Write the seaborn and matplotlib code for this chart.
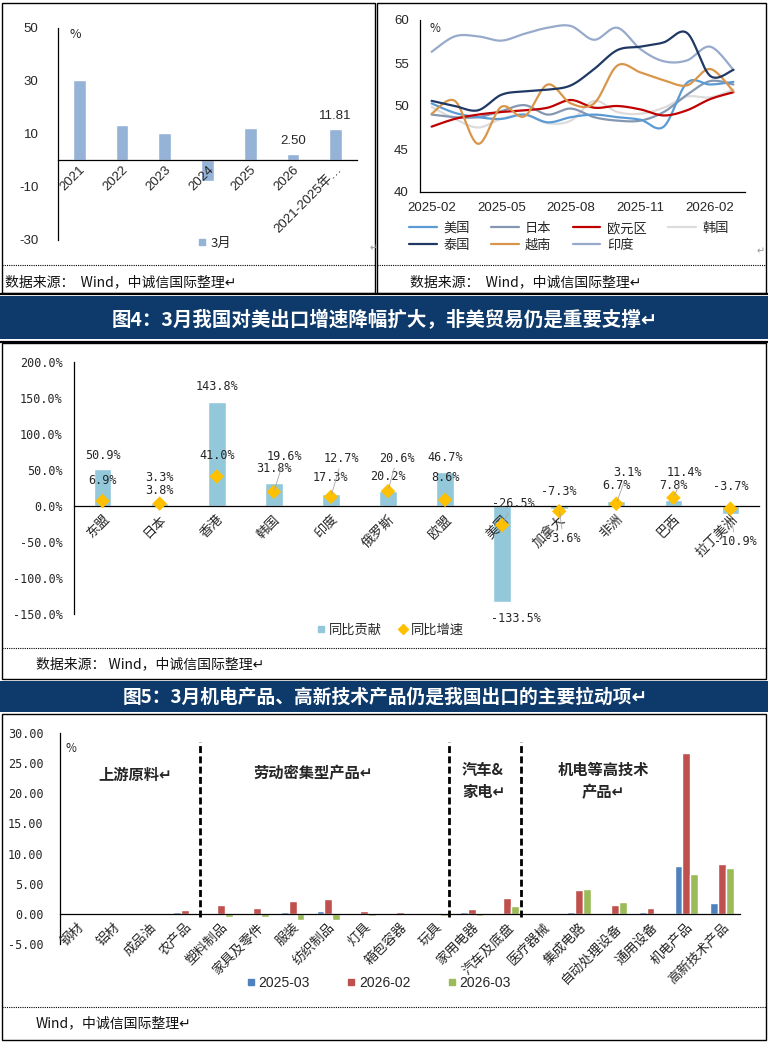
import numpy as np
import pandas as pd
import matplotlib
matplotlib.use("Agg")
import matplotlib.pyplot as plt
import seaborn as sns
from matplotlib.lines import Line2D
from matplotlib.patches import Rectangle

# ---------------- data ----------------
# panel A: March export growth by year
years = ['2021', '2022', '2023', '2024', '2025', '2026', '2021-2025年…']
march_growth = [30.2, 13.3, 10.5, -7.9, 12.2, 2.50, 11.81]

# panel B: manufacturing PMI
months = ['2025-02', '2025-03', '2025-04', '2025-05', '2025-06', '2025-07', '2025-08',
          '2025-09', '2025-10', '2025-11', '2025-12', '2026-01', '2026-02', '2026-03']
pmi_us = [50.3, 49.2, 48.7, 48.5, 49.0, 48.1, 48.7, 49.0, 48.7, 48.4, 47.6, 52.7, 52.5, 52.8]
pmi_japan = [49.0, 48.7, 48.7, 49.4, 50.1, 49.0, 49.7, 48.7, 48.3, 48.3, 49.3, 51.3, 52.9, 52.5]
pmi_euro = [47.6, 48.5, 49.0, 49.3, 49.5, 49.8, 50.7, 49.8, 50.0, 49.6, 48.9, 49.5, 50.8, 51.6]
pmi_korea = [49.9, 48.5, 47.5, 48.5, 49.0, 48.0, 48.3, 50.6, 49.3, 49.1, 49.8, 51.1, 51.0, 51.9]
pmi_thai = [50.6, 50.0, 49.5, 51.3, 51.7, 51.9, 52.4, 54.3, 56.5, 56.9, 57.4, 58.5, 53.5, 54.2]
pmi_vietnam = [49.1, 50.6, 45.6, 49.9, 48.8, 52.5, 50.3, 50.3, 54.7, 53.9, 53.0, 52.4, 54.3, 51.7]
pmi_india = [56.3, 58.1, 58.1, 57.6, 58.4, 59.1, 59.3, 57.7, 59.1, 56.6, 55.2, 55.3, 56.9, 54.2]
pmi_names = ['美国', '日本', '欧元区', '韩国', '泰国', '越南', '印度']

# panel C: exports by region
regions = ['东盟', '日本', '香港', '韩国', '印度', '俄罗斯', '欧盟', '美国', '加拿大', '非洲', '巴西', '拉丁美洲']
contrib = [50.9, 3.8, 143.8, 31.8, 17.3, 20.2, 46.7, -133.5, -3.6, 6.7, 7.8, -10.9]
growth = [6.9, 3.3, 41.0, 19.6, 12.7, 20.6, 8.6, -26.5, -7.3, 3.1, 11.4, -3.7]

# panel D: exports by product
products = ['钢材', '铝材', '成品油', '农产品', '塑料制品', '家具及零件', '服装', '纺织制品', '灯具',
            '箱包容器', '玩具', '家用电器', '汽车及底盘', '医疗器械', '集成电路', '自动处理设备',
            '通用设备', '机电产品', '高新技术产品']
v_2503 = [0.0, 0.0, -0.15, 0.35, 0.2, 0.15, 0.35, 0.55, 0.15, 0.05, 0.05, 0.3, 0.05, 0.05, 0.3, 0.05, 0.3, 8.0, 1.85]
v_2602 = [0.05, 0.15, 0.0, 0.7, 1.55, 1.05, 2.05, 2.4, 0.55, 0.3, 0.2, 0.85, 2.65, 0.15, 3.9, 1.5, 1.05, 26.7, 8.3]
v_2603 = [-0.15, -0.05, 0.0, 0.05, -0.55, -0.45, -1.05, -1.05, -0.35, -0.1, -0.3, -0.35, 1.35, -0.05, 4.2, 2.0, -0.1, 6.65, 7.6]
periods = ['2025-03', '2026-02', '2026-03']

# ---------------- style ----------------
sns.set_style('white')
CJK = ['Noto Sans CJK SC', 'DejaVu Sans']
SANS = ['Liberation Sans', 'Noto Sans CJK SC', 'DejaVu Sans']
MONO = ['DejaVu Sans Mono', 'Noto Sans CJK SC']
plt.rcParams['font.family'] = CJK
plt.rcParams['axes.unicode_minus'] = False

W, H = 768, 1044
fig = plt.figure(figsize=(W / 100, H / 100), dpi=100)


def fx(x):
    return x / W


def fy(y):
    return 1 - y / H


def rect(l, t, r, b):
    return [fx(l), fy(b), (r - l) / W, (b - t) / H]


def box(l, t, r, b, **kw):
    fig.add_artist(Rectangle((fx(l), fy(b)), (r - l) / W, (b - t) / H,
                             transform=fig.transFigure, **kw))


def hline(x0, x1, y, **kw):
    fig.add_artist(Line2D([fx(x0), fx(x1)], [fy(y), fy(y)], transform=fig.transFigure, **kw))


def smooth(vals, n=16):
    # excel-like smoothed line (catmull-rom through the data points)
    pts = np.column_stack([np.arange(len(vals)), vals]).astype(float)
    pad = np.vstack([pts[0], pts, pts[-1]])
    t = np.linspace(0, 1, n, endpoint=False)[:, None]
    segs = []
    for i in range(len(pts) - 1):
        p0, p1, p2, p3 = pad[i:i + 4]
        segs.append(0.5 * (2 * p1 + (-p0 + p2) * t + (2 * p0 - 5 * p1 + 4 * p2 - p3) * t ** 2
                           + (-p0 + 3 * p1 - 3 * p2 + p3) * t ** 3))
    segs.append(pts[-1:])
    return np.vstack(segs)


def zero_axis(ax):
    for s in ['top', 'right']:
        ax.spines[s].set_visible(False)
    ax.spines['bottom'].set_position(('data', 0))
    for s in ['left', 'bottom']:
        ax.spines[s].set_color('black')
        ax.spines[s].set_linewidth(0.9)
    ax.set_axisbelow(False)


# ---------------- frames ----------------
box(2, 3, 375, 293, fill=False, edgecolor='black', lw=1)
box(377, 3, 766, 293, fill=False, edgecolor='black', lw=1)
hline(2, 375, 265, color='black', lw=0.8, ls=(0, (1, 1)))
hline(377, 766, 265, color='black', lw=0.8, ls=(0, (1, 1)))
box(0, 296, 768, 339, facecolor='#0E3A6B', edgecolor='none')
hline(0, 768, 294, color='black', lw=1.6)
hline(0, 768, 342, color='black', lw=1.6)
box(2, 343, 766, 679, fill=False, edgecolor='black', lw=1)
hline(2, 766, 648, color='black', lw=0.8, ls=(0, (1, 1)))
box(0, 681, 768, 712, facecolor='#0E3A6B', edgecolor='none')
box(2, 714, 766, 1040, fill=False, edgecolor='black', lw=1)
hline(2, 766, 1007, color='black', lw=0.8, ls=(0, (1, 1)))

fig.text(fx(385), fy(320), '图4：3月我国对美出口增速降幅扩大，非美贸易仍是重要支撑↵', color='white',
         fontsize=14, fontweight='bold', ha='center', va='center')
fig.text(fx(385), fy(697), '图5：3月机电产品、高新技术产品仍是我国出口的主要拉动项↵', color='white',
         fontsize=13.5, fontweight='bold', ha='center', va='center')
src = 'Wind，中诚信国际整理↵'
fig.text(fx(5), fy(282), '数据来源：  ' + src, fontsize=10, va='center', color='#111111')
fig.text(fx(410), fy(282), '数据来源：  ' + src, fontsize=10, va='center', color='#111111')
fig.text(fx(36), fy(664), '数据来源： ' + src, fontsize=10, va='center', color='#111111')
fig.text(fx(36), fy(1023), src, fontsize=10, va='center', color='#111111')
fig.text(fx(370), fy(248), '↵', fontsize=7, color='#999999', va='center')
fig.text(fx(757), fy(251), '↵', fontsize=7, color='#999999', va='center')

# ---------------- panel A ----------------
ax1 = fig.add_axes(rect(58, 28, 357, 240))
dfa = pd.DataFrame({'year': years, 'growth': march_growth})
sns.barplot(data=dfa, x='year', y='growth', color='#95B3D7', saturation=1, width=0.3, ax=ax1)
zero_axis(ax1)
ax1.set_ylim(-30, 50)
ax1.set_xlim(-0.5, 6.5)
ax1.set_yticks([-30, -10, 10, 30, 50])
ax1.set_xlabel('')
ax1.set_ylabel('')
ax1.tick_params(axis='y', length=0, pad=14, labelsize=9.5)
ax1.tick_params(axis='x', length=0, pad=2)
ax1.set_xticks(range(len(years)))
ax1.set_xticklabels(years, rotation=45, ha='right', rotation_mode='anchor', fontsize=9.5, family=SANS)
for lab in ax1.get_yticklabels():
    lab.set_family(SANS)
for i in [5, 6]:
    ax1.annotate(f'{march_growth[i]:.2f}', (i, march_growth[i]), xytext=(0, 5), textcoords='offset points',
                 ha='center', va='bottom', fontsize=9.5, family=SANS)
fig.text(fx(75), fy(35), '%', fontsize=9, ha='center', va='center')
fig.legend(handles=[Line2D([], [], marker='s', ls='', color='#95B3D7', ms=5)], labels=['3月'],
           loc='center', bbox_to_anchor=(fx(214), fy(243)), frameon=False, fontsize=9.5,
           handlelength=0.8, handletextpad=0.2)

# ---------------- panel B ----------------
ax2 = fig.add_axes(rect(420, 20, 745, 192))
pmi_series = [pmi_us, pmi_japan, pmi_euro, pmi_korea, pmi_thai, pmi_vietnam, pmi_india]
pmi_colors = ['#5B9BD5', '#8497B0', '#C00000', '#DCDCDC', '#1F3864', '#D9964A', '#97AACB']
draw_order = [3, 1, 0, 2, 6, 5, 4]
handles = {}
for k in draw_order:
    sm = smooth(pmi_series[k])
    ln, = ax2.plot(sm[:, 0], sm[:, 1], color=pmi_colors[k], lw=1.6, solid_capstyle='round')
    handles[k] = ln
ax2.set_xlim(-0.5, 13.5)
ax2.set_ylim(40, 60)
ax2.set_yticks([40, 45, 50, 55, 60])
ax2.set_xticks([0, 3, 6, 9, 12])
ax2.set_xticklabels([months[i] for i in [0, 3, 6, 9, 12]])
ax2.set_xticks([2.5, 5.5, 8.5, 11.5], minor=True)
for s in ['top', 'right']:
    ax2.spines[s].set_visible(False)
for s in ['left', 'bottom']:
    ax2.spines[s].set_color('black')
    ax2.spines[s].set_linewidth(0.9)
ax2.tick_params(axis='x', which='major', length=0, pad=7, labelsize=9.5)
ax2.tick_params(axis='x', which='minor', direction='in', length=4, width=0.8)
ax2.tick_params(axis='y', direction='in', length=4, width=0.8, pad=8, labelsize=9.5)
for lab in ax2.get_xticklabels() + ax2.get_yticklabels():
    lab.set_family(SANS)
fig.text(fx(435), fy(28), '%', fontsize=8.5, ha='center', va='center')
order = [0, 4, 1, 5, 2, 6, 3]
fig.legend(handles=[handles[k] for k in order], labels=[pmi_names[k] for k in order], ncol=4,
           loc='center left', bbox_to_anchor=(fx(397), fy(237)), frameon=False, fontsize=9.5,
           handlelength=2.1, handletextpad=0.5, columnspacing=1.6, labelspacing=0.3)

# ---------------- panel C ----------------
ax3 = fig.add_axes(rect(74, 362, 759, 614))
dfc = pd.DataFrame({'region': regions, 'contrib': contrib, 'growth': growth})
sns.barplot(data=dfc, x='region', y='contrib', color='#92C8DA', saturation=1, width=0.31, ax=ax3)
sns.scatterplot(x=np.arange(len(regions)), y=dfc['growth'], marker='D', s=55, color='#FFC000',
                edgecolor='none', ax=ax3, zorder=5)
zero_axis(ax3)
ax3.set_xlim(-0.5, 11.5)
ax3.set_ylim(-150, 200)
ax3.set_yticks(np.arange(-150, 201, 50))
ax3.set_yticklabels([f'{v:.1f}%' for v in np.arange(-150, 201, 50)], family=MONO, fontsize=8.5)
ax3.set_xlabel('')
ax3.set_ylabel('')
ax3.set_xticks(range(len(regions)))
ax3.set_xticklabels(regions, rotation=45, ha='right', rotation_mode='anchor', fontsize=9.5)
ax3.set_xticks(np.arange(0.5, 11, 1), minor=True)
ax3.tick_params(axis='x', which='major', length=0, pad=5)
ax3.tick_params(axis='x', which='minor', direction='in', length=4, width=0.8)
ax3.tick_params(axis='y', direction='in', length=4, width=0.8, pad=8)

# label offsets in pixels (dx, dy; negative dy = above the point)
bar_off = [(0, -14), (0, -13), (0, -16), (0, -15), (0, -16), (0, -15), (0, -15), (14, 16),
           (4, 30), (0, -15.5), (0, -15), (5, 28)]
dot_off = [(0, -21), (0, -26), (0, -21), (11, -35), (11, -38), (9, -33), (0, -22), (11, -22),
           (0, -20), (11, -31), (11, -25), (0, -22)]
bar_lead = [False] * 8 + [True, False, False, True]
dot_lead = [False, False, False, True, True, True, False, True, False, True, True, False]
lead = dict(arrowstyle='-', color='#A6A6A6', lw=0.6, shrinkA=0, shrinkB=2)
for i in range(len(regions)):
    for val, off, ld in [(contrib[i], bar_off[i], bar_lead[i]), (growth[i], dot_off[i], dot_lead[i])]:
        ax3.annotate(f'{val:.1f}%', (i, val), xytext=(off[0] * 0.72, -off[1] * 0.72),
                     textcoords='offset points', ha='center', va='center', fontsize=8.5,
                     family=MONO, arrowprops=lead if ld else None, zorder=6)
fig.legend(handles=[Line2D([], [], marker='s', ls='', color='#92C8DA', ms=5),
                    Line2D([], [], marker='D', ls='', color='#FFC000', ms=5)],
           labels=['同比贡献', '同比增速'], ncol=2, loc='center', bbox_to_anchor=(fx(390), fy(630)),
           frameon=False, fontsize=9.5, handlelength=0.8, handletextpad=0.2, columnspacing=1.2)

# ---------------- panel D ----------------
ax4 = fig.add_axes(rect(60, 733, 740, 944))
dfd = pd.DataFrame({'product': products, '2025-03': v_2503, '2026-02': v_2602, '2026-03': v_2603})
dfd = dfd.melt(id_vars='product', var_name='period', value_name='value')
pal = {'2025-03': '#4F81BD', '2026-02': '#C0504D', '2026-03': '#9BBB59'}
sns.barplot(data=dfd, x='product', y='value', hue='period', hue_order=periods, palette=pal,
            saturation=1, width=0.66, ax=ax4, legend=False)
zero_axis(ax4)
ax4.set_xlim(-0.5, len(products) - 0.5)
ax4.set_ylim(-5, 30)
ax4.set_yticks(np.arange(-5, 31, 5))
ax4.set_yticklabels([f'{v:.2f}' for v in np.arange(-5, 31, 5)], family=MONO, fontsize=8.5)
ax4.set_xlabel('')
ax4.set_ylabel('')
ax4.set_xticks(range(len(products)))
ax4.set_xticklabels(products, rotation=45, ha='right', rotation_mode='anchor', fontsize=9.5)
ax4.set_xticks(np.arange(0.5, len(products) - 0.5, 1), minor=True)
ax4.tick_params(axis='x', which='major', length=0, pad=5)
ax4.tick_params(axis='x', which='minor', direction='in', length=3, width=0.8)
ax4.tick_params(axis='y', length=0, pad=12)
for xd in [3.4, 10.37, 12.38]:
    ax4.plot([xd, xd], [-0.5, 28.5], color='black', lw=2, ls=(0, (2.5, 1.2)))
fig.text(fx(71), fy(749), '%', fontsize=8.5, ha='center', va='center')
fig.text(fx(135), fy(775), '上游原料↵', fontsize=11, fontweight='bold', ha='center', va='center')
fig.text(fx(313), fy(773), '劳动密集型产品↵', fontsize=11, fontweight='bold', ha='center', va='center')
fig.text(fx(462), fy(781), '汽车&\n家电↵', fontsize=11, fontweight='bold', ha='left', va='center',
         linespacing=1.5)
fig.text(fx(603), fy(781), '机电等高技术\n产品↵', fontsize=11, fontweight='bold', ha='center', va='center',
         linespacing=1.5)
fig.legend(handles=[Line2D([], [], marker='s', ls='', color=pal[p], ms=5) for p in periods],
           labels=periods, ncol=3, loc='center', bbox_to_anchor=(fx(378), fy(983)), frameon=False,
           prop={'family': SANS, 'size': 10}, handlelength=0.8, handletextpad=0.15, columnspacing=2.6)

fig.savefig('out.png', dpi=100)
